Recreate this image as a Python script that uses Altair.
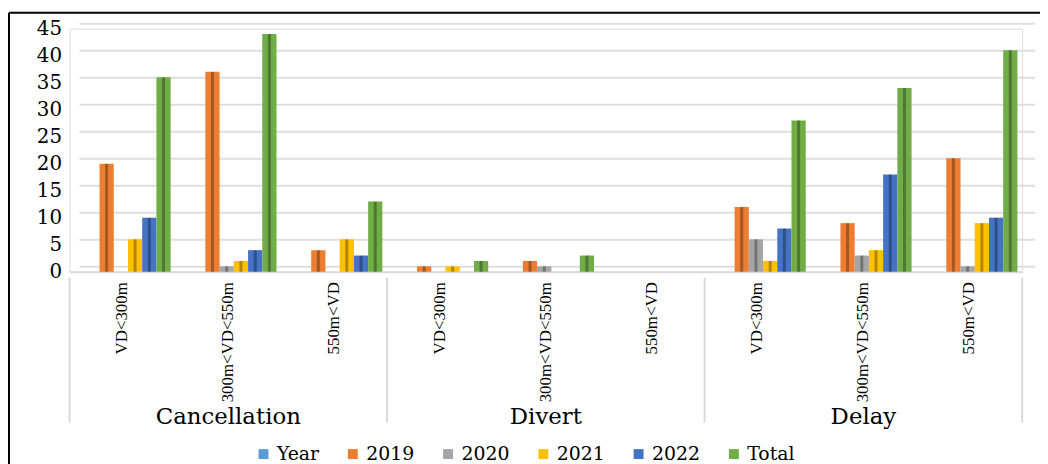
import altair as alt
import pandas as pd

groups = ["Cancellation", "Divert", "Delay"]
subs = ["VD<300m", "300m<VD<550m", "550m<VD"]
series = ["Year", "2019", "2020", "2021", "2022", "Total"]
colors = ["#5B9BD5", "#ED7D31", "#A5A5A5", "#FFC000", "#4472C4", "#70AD47"]

# values per (group, sub) in order: Cancellation x3, Divert x3, Delay x3
v_year = [0, 0, 0, 0, 0, 0, 0, 0, 0]
v_2019 = [20, 37, 4, 1, 2, 0, 12, 9, 21]
v_2020 = [0, 1, 0, 0, 1, 0, 6, 3, 1]
v_2021 = [6, 2, 6, 1, 0, 0, 2, 4, 9]
v_2022 = [10, 4, 3, 0, 0, 0, 8, 18, 10]
v_total = [36, 44, 13, 2, 3, 0, 28, 34, 41]
y_ticks = [0, 5, 10, 15, 20, 25, 30, 35, 40, 45]

keys = [f"{g}|{s}" for g in groups for s in subs]
vals = dict(zip(series, [v_year, v_2019, v_2020, v_2021, v_2022, v_total]))
rows = []
for i, k in enumerate(keys):
    for s in series:
        rows.append({"key": k, "series": s, "value": vals[s][i]})
df = pd.DataFrame(rows)

x_enc = alt.X(
    "key:N", sort=keys,
    scale=alt.Scale(paddingInner=0, paddingOuter=0),
    axis=alt.Axis(
        title=None, labelAngle=-90, labelExpr="split(datum.label, '|')[1]",
        labelFont="Liberation Serif", labelFontSize=17, labelColor="black",
        ticks=False, domainColor="#d9d9d9", domainWidth=2, labelPadding=10,
        grid=False,
    ),
)
y_scale = alt.Scale(domain=[0, 45], nice=False)
y_axis = alt.Axis(
    values=y_ticks, grid=False, domain=False, ticks=False, title=None,
    labelFont="DejaVu Serif", labelFontSize=20, labelColor="black",
    labelPadding=8, labelOverlap=False, labelFlush=False)

grid = alt.Chart(pd.DataFrame({"g": y_ticks})).mark_rule(
    color="#dedede", strokeWidth=2, yOffset=-5
).encode(
    y=alt.Y("g:Q", scale=y_scale, axis=y_axis),
    x=alt.value(10), x2=alt.value(973),
)

xoff = alt.XOffset("series:N", sort=series,
                   scale=alt.Scale(paddingInner=0, paddingOuter=0.72, align=0.77))

bars = alt.Chart(df).mark_bar().encode(
    x=x_enc,
    xOffset=xoff,
    y=alt.Y("value:Q", scale=y_scale, axis=y_axis),
    color=alt.Color("series:N", sort=series,
                    scale=alt.Scale(domain=series, range=colors),
                    legend=alt.Legend(
                        title=None, orient="none", direction="horizontal",
                        legendX=186, legendY=419, symbolType="square",
                        symbolSize=100, symbolStrokeWidth=0,
                        labelFont="DejaVu Serif", labelFontSize=19,
                        labelColor="black", columnPadding=24, labelOffset=4)),
)

sides = alt.Chart(df).mark_bar(width=3, xOffset=5.7, color="black", opacity=0.3).encode(
    x=alt.X("key:N", sort=keys),
    xOffset=xoff,
    y=alt.Y("value:Q", scale=y_scale, axis=y_axis),
)

div_start = alt.Chart(pd.DataFrame({"key": [keys[0], keys[3], keys[6]]})).mark_rule(
    color="#d9d9d9", strokeWidth=2
).encode(
    x=alt.X("key:N", sort=keys, bandPosition=0),
    y=alt.value(251), y2=alt.value(397),
)
div_end = alt.Chart(pd.DataFrame({"key": [keys[8]]})).mark_rule(
    color="#d9d9d9", strokeWidth=2
).encode(
    x=alt.X("key:N", sort=keys, bandPosition=1),
    y=alt.value(251), y2=alt.value(397),
)

glabels = alt.Chart(pd.DataFrame({"key": [keys[1], keys[4], keys[7]],
                                  "label": groups})).mark_text(
    font="DejaVu Serif", fontSize=23, color="black", baseline="alphabetic"
).encode(
    x=alt.X("key:N", sort=keys, bandPosition=0.5),
    y=alt.value(398),
    text="label:N",
)

frame_top = alt.Chart(pd.DataFrame({"a": [0]})).mark_rule(color="black", strokeWidth=2).encode(
    x=alt.value(-61), x2=alt.value(990), y=alt.value(-16))
frame_left = alt.Chart(pd.DataFrame({"a": [0]})).mark_rule(color="black", strokeWidth=2).encode(
    x=alt.value(-61), y=alt.value(-16), y2=alt.value(460))

chart = alt.layer(
    grid, bars, sides, div_start, div_end, glabels, frame_top, frame_left
).properties(
    width=960, height=245,
    autosize=alt.AutoSizeParams(type="none"),
    padding={"left": 62, "top": 19, "right": 18, "bottom": 200},
).configure_view(stroke=None).configure(background="white")

chart.save("out.html", embed_options={"renderer": "svg", "actions": False})
